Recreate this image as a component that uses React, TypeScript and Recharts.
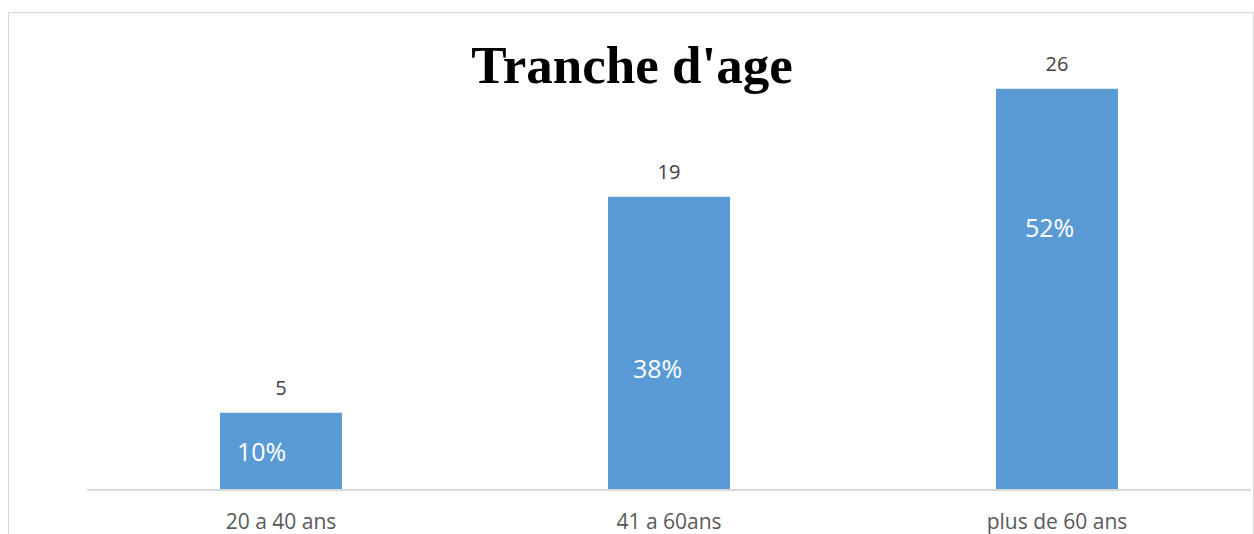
import React from "react";
import { BarChart, Bar, XAxis, YAxis, LabelList } from "recharts";

const categories = ["20 a 40 ans", "41 a 60ans", "plus de 60 ans"];
const counts = [5, 19, 26];
const percents = [10, 38, 52];

const data = categories.map((name, i) => ({
  name,
  count: counts[i],
  pct: percents[i],
}));

// hand-placed spots of the percent labels inside each bar (like the source)
const pctOffsets = [
  { dx: 17, dy: 48 },
  { dx: 25, dy: 181 },
  { dx: 29, dy: 148 },
];

const font = "'Open Sans', sans-serif";

const PctLabel = (props: any) => {
  const { x, y, index, value } = props;
  const off = pctOffsets[index] || { dx: 0, dy: 0 };
  return (
    <text
      x={x + off.dx}
      y={y + off.dy}
      fill="#ffffff"
      fontSize={25}
      fontFamily={font}
      textAnchor="start"
    >
      {value}%
    </text>
  );
};

export default function App() {
  return (
    <div
      style={{
        position: "absolute",
        left: 0,
        top: 0,
        width: 1254,
        height: 534,
        overflow: "hidden",
        background: "#fff",
      }}
    >
      <div
        style={{
          position: "absolute",
          left: 8,
          top: 12,
          width: 1244,
          height: 560,
          border: "1px solid #d9d9d9",
        }}
      />
      <div
        style={{
          position: "absolute",
          left: 0,
          top: 35,
          width: 1254,
          textAlign: "center",
          fontFamily: "'Liberation Serif', 'Times New Roman', serif",
          fontWeight: "bold",
          fontSize: 53,
          lineHeight: "60px",
          color: "#000",
          paddingLeft: 10,
          boxSizing: "border-box",
        }}
      >
        Tranche d'age
      </div>
      <div style={{ position: "absolute", left: 0, top: 0 }}>
        <BarChart
          width={1254}
          height={534}
          data={data}
          margin={{ top: 27, right: 3, bottom: 0, left: 87 }}
        >
          <XAxis
            dataKey="name"
            height={44}
            axisLine={{ stroke: "#d9d9d9", strokeWidth: 2 }}
            tickLine={false}
            tickMargin={18}
            tick={{ fill: "#595959", fontSize: 21, fontFamily: font }}
          />
          <YAxis hide domain={[0, 30]} />
          <Bar
            dataKey="count"
            fill="#5b9bd5"
            barSize={122}
            isAnimationActive={false}
          >
            <LabelList
              dataKey="count"
              position="top"
              offset={18}
              fill="#404040"
              fontSize={20}
              fontFamily={font}
            />
            <LabelList dataKey="pct" content={PctLabel} />
          </Bar>
        </BarChart>
      </div>
    </div>
  );
}
